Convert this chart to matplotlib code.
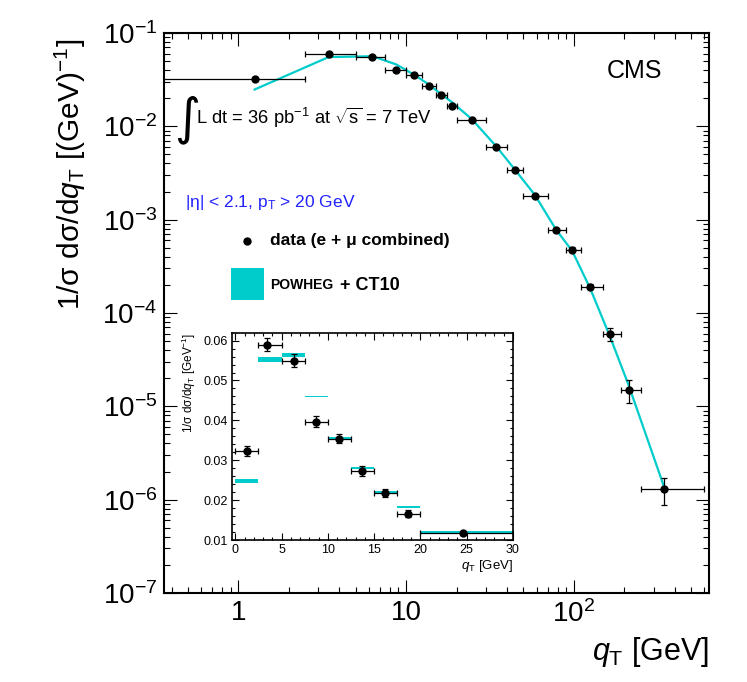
import numpy as np
import matplotlib
matplotlib.use("Agg")
import matplotlib.pyplot as plt
from matplotlib.patches import Rectangle
from matplotlib.ticker import FixedLocator, FixedFormatter, NullFormatter, LogLocator, MultipleLocator

plt.rcParams['font.family'] = ['Liberation Sans', 'DejaVu Sans']
plt.rcParams['mathtext.fontset'] = 'custom'
plt.rcParams['mathtext.rm'] = 'Liberation Sans'
plt.rcParams['mathtext.it'] = 'Liberation Sans:italic'
plt.rcParams['mathtext.bf'] = 'Liberation Sans:bold'
plt.rcParams['mathtext.default'] = 'regular'

# q_T bins [GeV]
bin_lo = [0, 2.5, 5, 7.5, 10, 12.5, 15, 17.5, 20, 30, 40, 50, 70, 90, 110, 150, 190, 250]
bin_hi = [2.5, 5, 7.5, 10, 12.5, 15, 17.5, 20, 30, 40, 50, 70, 90, 110, 150, 190, 250, 600]
qt = [1.25, 3.45, 6.3, 8.75, 11.2, 13.7, 16.2, 18.7, 24.6, 34.5, 44.5, 58.5, 78.5, 98, 125, 165, 212, 346]

# 1/sigma dsigma/dqT, data (e + mu combined)
data = [0.0322, 0.0590, 0.0550, 0.0397, 0.0354, 0.0272, 0.0217, 0.0166, 0.0118,
        0.00594, 0.00337, 0.00180, 0.000772, 0.000476, 1.92e-4, 5.98e-5, 1.5e-5, 1.3e-6]
data_err = [0.00125, 0.0017, 0.0016, 0.0014, 0.0012, 0.00125, 0.0010, 0.0009, 0.0002,
            0.0001, 0.00008, 0.00005, 0.00003, 0.00003, 0.000012, 0.00001, 0.0000042, 0.00000042]

# POWHEG + CT10 prediction
powheg = [0.0248, 0.0552, 0.0564, 0.0460, 0.0356, 0.0280, 0.0221, 0.01825, 0.0120,
          0.0061, 0.00345, 0.00185, 0.00078, 0.00046, 1.85e-4, 5.5e-5, 1.7e-5, 1.36e-6]
powheg_err = [0.0004, 0.0006, 0.0004, 0.0002, 0.0002, 0.00025, 0.0002, 0.0002, 0.00015]

n_inset = 9

xtick_vals = [1, 10, 100]
xtick_labels = ['1', '10', '$10^{2}$']
ytick_vals = [1e-7, 1e-6, 1e-5, 1e-4, 1e-3, 1e-2, 1e-1]
ytick_labels = ['$10^{-7}$', '$10^{-6}$', '$10^{-5}$', '$10^{-4}$', '$10^{-3}$', '$10^{-2}$', '$10^{-1}$']
in_xticks = [0, 5, 10, 15, 20, 25, 30]
in_yticks = [0.01, 0.02, 0.03, 0.04, 0.05, 0.06]
in_ytick_labels = ['0.01', '0.02', '0.03', '0.04', '0.05', '0.06']

cyan = '#00cccc'

qt = np.array(qt)
lo = np.clip(np.array(bin_lo), 0.05, None)
hi = np.array(bin_hi)

fig = plt.figure(figsize=(7.47, 6.82), dpi=100)
ax = fig.add_axes([0.2195, 0.1305, 0.7296, 0.8211])

ax.plot(qt, powheg, color=cyan, lw=1.6, zorder=2)
ax.errorbar(qt, data, yerr=data_err, xerr=[qt - lo, hi - qt], fmt='o', color='black',
            ms=5, elinewidth=0.9, capsize=2, capthick=0.9, zorder=3)

ax.set_xscale('log')
ax.set_yscale('log')
ax.set_xlim(0.36, 640)
ax.set_ylim(1e-7, 1e-1)

ax.xaxis.set_major_locator(FixedLocator(xtick_vals))
ax.xaxis.set_major_formatter(FixedFormatter(xtick_labels))
ax.xaxis.set_minor_locator(LogLocator(base=10, subs=np.arange(2, 10), numticks=20))
ax.xaxis.set_minor_formatter(NullFormatter())
ax.yaxis.set_major_locator(FixedLocator(ytick_vals))
ax.yaxis.set_major_formatter(FixedFormatter(ytick_labels))
ax.yaxis.set_minor_locator(LogLocator(base=10, subs=np.arange(2, 10), numticks=20))
ax.yaxis.set_minor_formatter(NullFormatter())

ax.tick_params(which='both', direction='in', top=True, right=True, width=0.8, labelsize=20, pad=5)
ax.tick_params(which='major', length=9.5)
ax.tick_params(which='minor', length=4.5)
for s in ax.spines.values():
    s.set_linewidth(1.5)

ax.set_ylabel('1/σ dσ/d$\\mathit{q}_{T}$ [(GeV)$^{-1}$]', fontsize=21.5, loc='top')
ax.yaxis.set_label_coords(-0.14, 0.99)
ax.set_xlabel('$\\mathit{q}_{T}$ [GeV]', fontsize=22, loc='right')
ax.xaxis.set_label_coords(1.0, -0.075)

# annotations
ax.text(0.8128, 0.932, 'CMS', transform=ax.transAxes, fontsize=18, va='center', ha='left')
ax.text(0.018, 0.845, '∫', transform=ax.transAxes, fontsize=36, va='center', ha='left',
        family='DejaVu Sans')
ax.text(0.059, 0.848, 'L dt = 36 pb$^{-1}$ at $\\sqrt{s}$ = 7 TeV', transform=ax.transAxes,
        fontsize=13.2, va='center', ha='left')
ax.text(0.0385, 0.698, '|η| < 2.1, p$_{T}$ > 20 GeV', transform=ax.transAxes, fontsize=12.5,
        color='#2222ff', va='center', ha='left')

# legend
ax.plot([0.152], [0.629], 'o', color='black', ms=5, transform=ax.transAxes)
ax.text(0.1945, 0.629, 'data (e + μ combined)', transform=ax.transAxes, fontsize=12.5,
        fontweight='bold', va='center', ha='left')
ax.add_patch(Rectangle((0.123, 0.523), 0.0606, 0.057, transform=ax.transAxes,
                       facecolor=cyan, edgecolor='none'))
ax.text(0.1945, 0.55, 'POWHEG', transform=ax.transAxes, fontsize=10,
        fontweight='bold', va='center', ha='left')
ax.text(0.323, 0.55, '+ CT10', transform=ax.transAxes, fontsize=13,
        fontweight='bold', va='center', ha='left')

# inset, linear scale, first bins
axin = fig.add_axes([0.3106, 0.2082, 0.376, 0.3035])
w = [bin_hi[i] - bin_lo[i] for i in range(n_inset)]
band_lo = [powheg[i] - powheg_err[i] for i in range(n_inset)]
band_h = [2 * powheg_err[i] for i in range(n_inset)]
axin.bar(bin_lo[:n_inset], band_h, width=w, bottom=band_lo, align='edge',
         color=cyan, linewidth=0, zorder=2)
axin.errorbar(qt[:n_inset], data[:n_inset], yerr=data_err[:n_inset],
              xerr=[qt[:n_inset] - np.array(bin_lo[:n_inset]), hi[:n_inset] - qt[:n_inset]],
              fmt='o', color='black', ms=5, elinewidth=0.9, capsize=2, capthick=0.9, zorder=3)
axin.set_xlim(-0.35, 30)
axin.set_ylim(0.01, 0.0619)
axin.xaxis.set_major_locator(FixedLocator(in_xticks))
axin.xaxis.set_minor_locator(MultipleLocator(1))
axin.yaxis.set_major_locator(FixedLocator(in_yticks))
axin.yaxis.set_major_formatter(FixedFormatter(in_ytick_labels))
axin.yaxis.set_minor_locator(MultipleLocator(0.002))
axin.tick_params(which='both', direction='in', top=True, right=True, width=0.8, labelsize=9, pad=3)
axin.tick_params(which='major', length=5)
axin.tick_params(which='minor', length=2.5)
for s in axin.spines.values():
    s.set_linewidth(1.2)
axin.set_ylabel('1/σ dσ/d$\\mathit{q}_{T}$ [GeV$^{-1}$]', fontsize=8.5, loc='top')
axin.set_xlabel('$\\mathit{q}_{T}$ [GeV]', fontsize=9.5, loc='right', labelpad=1)

fig.savefig('out.png', dpi=100)
